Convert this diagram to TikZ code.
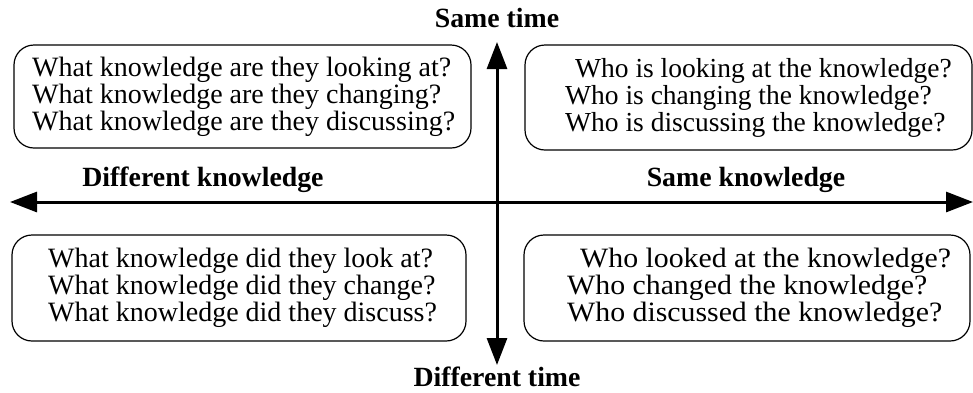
\documentclass[tikz,border=0pt]{standalone}
\usepackage{fontspec}
\setmainfont{Liberation Serif}
\newfontfamily\widefont[FakeStretch=1.065]{Liberation Serif}
\usetikzlibrary{arrows.meta}
\begin{document}
\begin{tikzpicture}[x=1pt,y=-1pt,
  qbox/.style={draw,line width=1.2pt,rounded corners=20pt},
  qtext/.style={align=left,anchor=west,inner sep=0pt,font=\fontsize{28}{27}\selectfont},
  axlabel/.style={inner sep=0pt,anchor=base,font=\fontsize{27.8}{30}\selectfont\bfseries},
  axis/.style={line width=3pt,{Triangle[length=27pt,width=20pt]}-{Triangle[length=27pt,width=20pt]}}]
\useasboundingbox (0,0) rectangle (973,392);
% boxes
\draw[qbox] (14,45) rectangle (471,148);
\draw[qbox] (525,45) rectangle (972,150);
\draw[qbox] (12,235) rectangle (466,341);
\draw[qbox] (524,235) rectangle (970,341);
% texts
\node[qtext] (tl) at (32,96.5) {What knowledge are they looking at?\\What knowledge are they changing?\\What knowledge are they discussing?};
\node[qtext,font=\fontsize{27.5}{27}\selectfont] (tr) at (565,97.5) {\hspace*{10pt}Who is looking at the knowledge?\\Who is changing the knowledge?\\Who is discussing the knowledge?};
\node[qtext] (bl) at (48,288) {What knowledge did they look at?\\What knowledge did they change?\\What knowledge did they discuss?};
\node[qtext,font=\widefont\fontsize{28}{27}\selectfont] (br) at (567,288) {\hspace*{13pt}Who looked at the knowledge?\\Who changed the knowledge?\\Who discussed the knowledge?};
% axes
\coordinate (left) at (10,202);
\coordinate (right) at (973,202);
\coordinate (top) at (497,42);
\coordinate (bottom) at (497,365);
\draw[axis] (left) -- (right);
\draw[axis] (bottom) -- (top);
% labels
\node[axlabel] (st) at (497,27) {Same time};
\node[axlabel] (dt) at (497,386) {Different time};
\node[axlabel] (dk) at (203,186) {Different knowledge};
\node[axlabel] (sk) at (746,186) {Same knowledge};
\end{tikzpicture}
\end{document}
